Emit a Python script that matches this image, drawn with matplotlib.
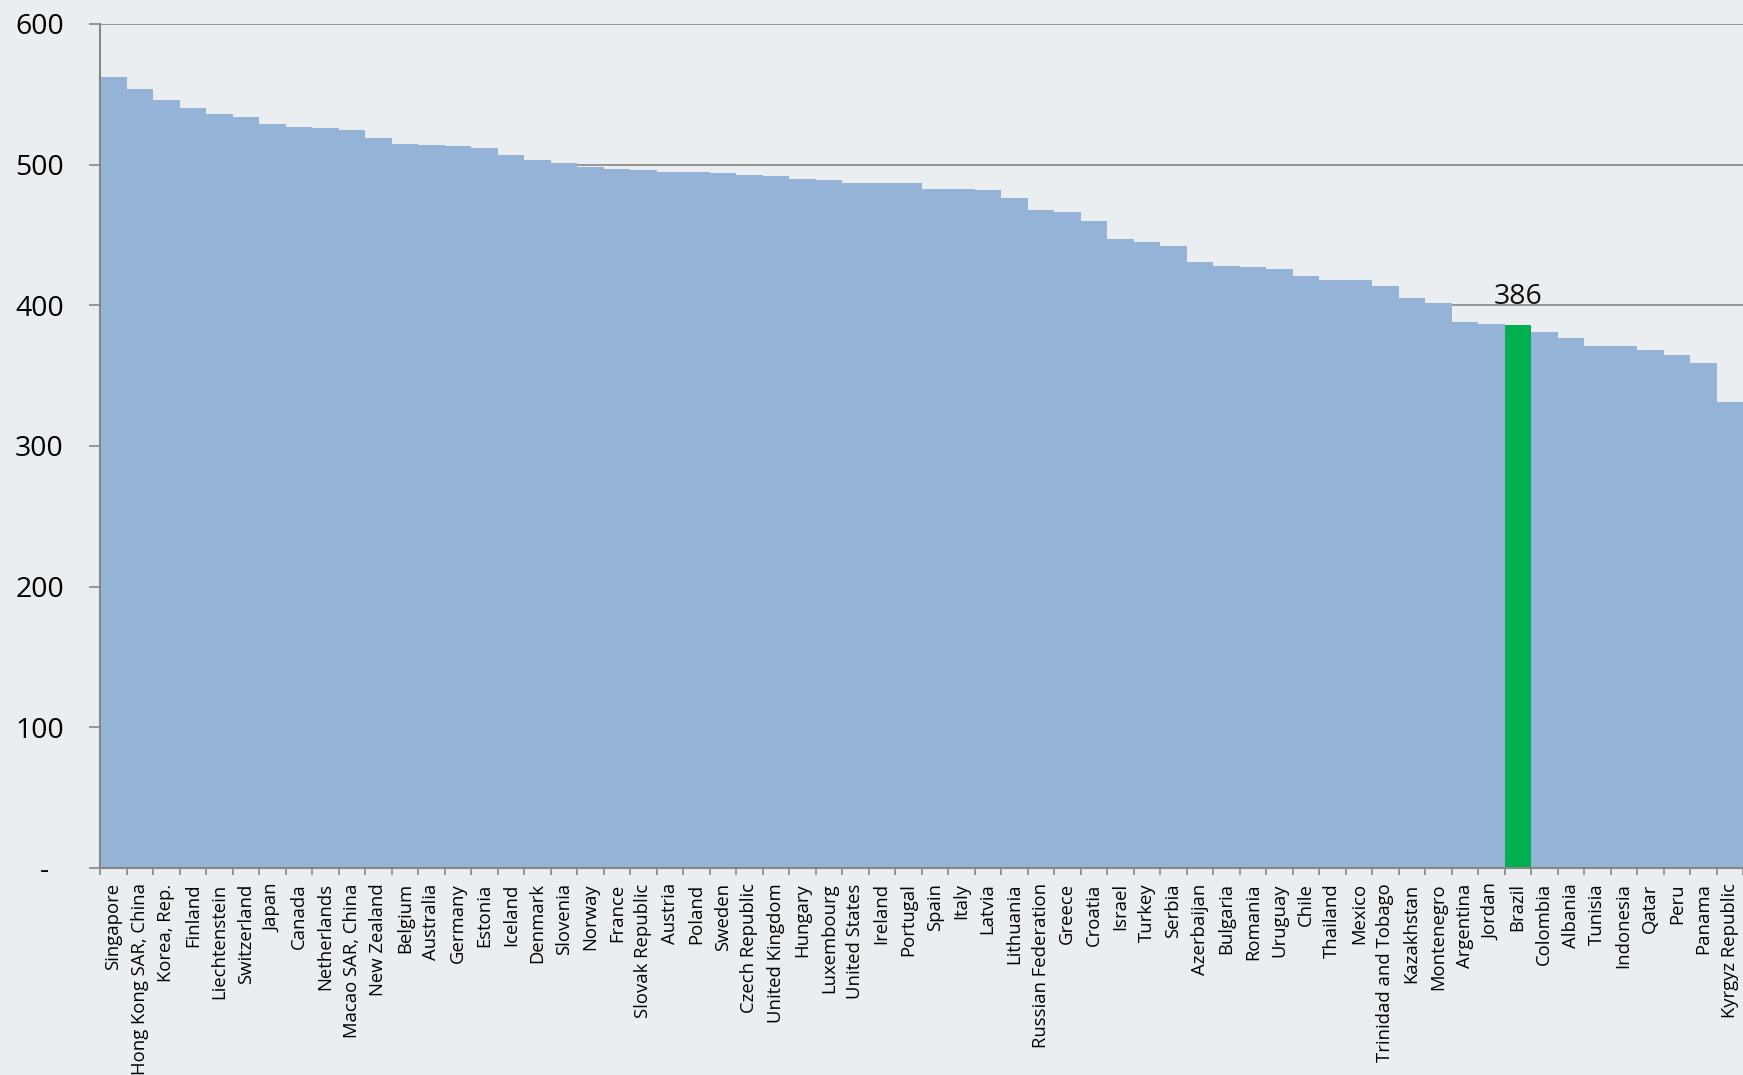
import numpy as np
import matplotlib.pyplot as plt

plt.rcParams['font.family'] = ['Open Sans', 'DejaVu Sans']

countries = [
    'Singapore', 'Hong Kong SAR, China', 'Korea, Rep.', 'Finland', 'Liechtenstein',
    'Switzerland', 'Japan', 'Canada', 'Netherlands', 'Macao SAR, China',
    'New Zealand', 'Belgium', 'Australia', 'Germany', 'Estonia', 'Iceland',
    'Denmark', 'Slovenia', 'Norway', 'France', 'Slovak Republic', 'Austria',
    'Poland', 'Sweden', 'Czech Republic', 'United Kingdom', 'Hungary',
    'Luxembourg', 'United States', 'Ireland', 'Portugal', 'Spain', 'Italy',
    'Latvia', 'Lithuania', 'Russian Federation', 'Greece', 'Croatia', 'Israel',
    'Turkey', 'Serbia', 'Azerbaijan', 'Bulgaria', 'Romania', 'Uruguay', 'Chile',
    'Thailand', 'Mexico', 'Trinidad and Tobago', 'Kazakhstan', 'Montenegro',
    'Argentina', 'Jordan', 'Brazil', 'Colombia', 'Albania', 'Tunisia',
    'Indonesia', 'Qatar', 'Peru', 'Panama', 'Kyrgyz Republic',
]
scores = [
    562, 554, 546, 540, 536, 534, 529, 527, 526, 525,
    519, 515, 514, 513, 512, 507, 503, 501, 498, 497,
    496, 495, 495, 494, 493, 492, 490, 489, 487, 487,
    487, 483, 483, 482, 476, 468, 466, 460, 447, 445,
    442, 431, 428, 427, 426, 421, 418, 418, 414, 405,
    402, 388, 387, 386, 381, 377, 371, 371, 368, 365,
    359, 331,
]
highlight = 'Brazil'
y_ticks = [0, 100, 200, 300, 400, 500, 600]
y_tick_labels = ['-  ', '100', '200', '300', '400', '500', '600']

bar_color = '#95B3D7'
hl_color = '#00B050'
line_gray = '#868686'

fig = plt.figure(figsize=(17.43, 10.75), dpi=100)
fig.patch.set_facecolor('#EBEEF1')
ax = fig.add_axes([100 / 1743, 1 - 868 / 1075, 1 - 100 / 1743, (868 - 24) / 1075])
ax.set_facecolor('none')

x = np.arange(len(countries))
colors = [hl_color if c == highlight else bar_color for c in countries]
ax.bar(x, scores, width=1.0, color=colors, zorder=2, linewidth=0)

hi = countries.index(highlight)
ax.text(hi, scores[hi] + 10, str(scores[hi]), ha='center', va='bottom',
        fontsize=20.5, color='#111111', zorder=3)

ax.set_xlim(-0.5, len(countries) - 0.5)
ax.set_ylim(0, 600)
ax.set_yticks(y_ticks)
ax.set_yticklabels(y_tick_labels)
ax.yaxis.grid(True, color=line_gray, linewidth=1.2, zorder=1)
ax.set_axisbelow(True)

ax.set_xticks(x)
ax.set_xticklabels(countries, rotation=90, ha='center', va='top', fontsize=13.3)
ax.set_xticks(np.arange(len(countries) + 1) - 0.5, minor=True)
ax.tick_params(axis='x', which='major', length=0, pad=11)
ax.tick_params(axis='x', which='minor', length=5, width=1.2, color=line_gray)
ax.tick_params(axis='y', length=8, width=1.2, color=line_gray, pad=18,
               labelsize=20.5)

for side in ['top', 'right']:
    ax.spines[side].set_visible(False)
for side in ['left', 'bottom']:
    ax.spines[side].set_color(line_gray)
    ax.spines[side].set_linewidth(1.5)
    ax.spines[side].set_zorder(3)

fig.savefig('out.png', dpi=100, facecolor=fig.get_facecolor())
